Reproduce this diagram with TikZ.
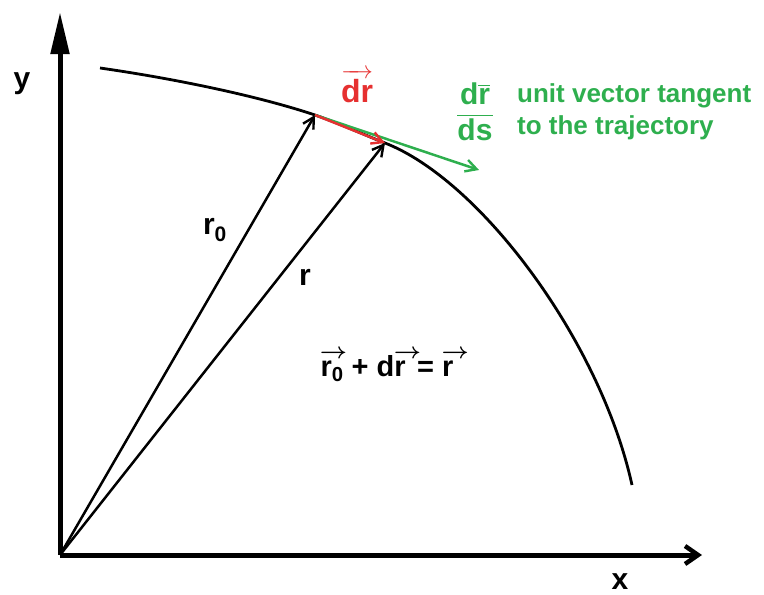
\documentclass[tikz,border=0pt]{standalone}
\usepackage{amsmath}
\usepackage{graphicx}
\usepackage{fontspec}
\setmainfont{Liberation Sans}
\usepackage{xcolor}
\usepackage{tikz}
\usetikzlibrary{arrows.meta}
\definecolor{vred}{RGB}{230,48,48}
\definecolor{vgreen}{RGB}{46,175,78}
% small arrow over a letter, leaning to the right
\newcommand\arrowon[1]{\makebox[0pt][l]{\hspace{-0.02em}\raisebox{0.6em}{\scalebox{0.95}[0.9]{$\boldsymbol{\rightarrow}$}}}#1}

\begin{document}
\begin{tikzpicture}[
  x=1pt, y=-1pt,
  font=\fontsize{30}{32}\selectfont\bfseries,
  axis/.style={line width=5pt},
  vec/.style={-{Straight Barb[length=11pt,width=12pt,line width=2.4pt]}, line width=2.5pt},
  lbl/.style={inner sep=0pt}
]
\useasboundingbox (0,0) rectangle (764,595);
% points
\coordinate (O) at (60,555);
\coordinate (yend) at (60,12);
\coordinate (xend) at (702,555);
\coordinate (A) at (100,68);
\coordinate (P0) at (315,115);
\coordinate (P1) at (385,143);
\coordinate (E) at (632,485);
\coordinate (T) at (479,170);
% axes
\draw[axis, -{Triangle[length=42pt,width=18pt]}] (O) -- (yend);
\draw[axis, -{Straight Barb[length=13pt,width=18pt,line width=4.5pt]}] (O) -- (xend);
% trajectory
\draw[line width=2.8pt] (A) .. controls (170,78) and (255,95) .. (P0)
  .. controls (338,123) and (360,133) .. (P1)
  .. controls (480,180) and (600,340) .. (E);
% position vectors
\draw[vec] (O) -- (P0);
\draw[vec] (O) -- (P1);
\draw[vec, vgreen] (P0) -- (T);
\draw[vec, vred] (P0) -- (P1);
% labels
\node[lbl] (ylab) at (22,84) {y};
\node[lbl] (xlab) at (620,582) {x};
\node[lbl] (r0lab) at (215,230) {r\textsubscript{0}};
\node[lbl] (rlab) at (305,277) {r};
\node[lbl, text=vred, font=\fontsize{32}{34}\selectfont\bfseries] (drlab) at (357,86)
  {$\overrightarrow{\mbox{dr}}$};
\node[lbl, text=vgreen] (frac) at (475,112)
  {$\dfrac{\mbox{d$\overline{\mbox{r}}$}}{\mbox{ds}}$};
\node[lbl, text=vgreen, anchor=west, align=left, font=\fontsize{26}{32}\selectfont\bfseries] (unit) at (517,112)
  {unit vector tangent\\to the trajectory};
\node[lbl, font=\fontsize{29}{31}\selectfont\bfseries] (eq) at (387,366)
  {\arrowon{r}\textsubscript{0} + d\arrowon{r}\hspace{0.4em}= \arrowon{r}\hspace{0.4em}};
\end{tikzpicture}
\end{document}
